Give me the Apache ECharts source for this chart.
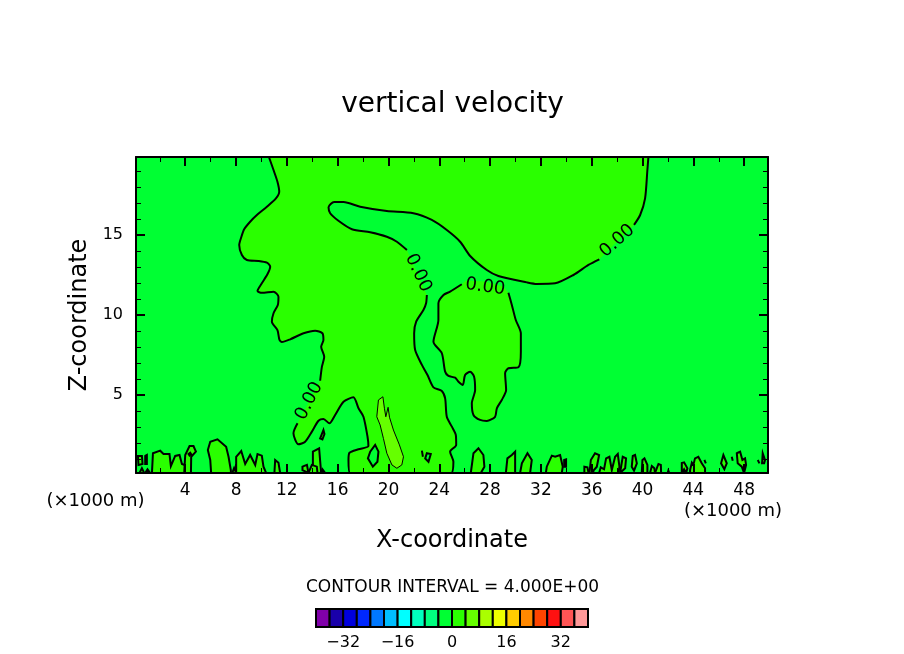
<!DOCTYPE html>
<html><head><meta charset="utf-8">
<style>html,body{margin:0;padding:0;background:#fff}#c{width:904px;height:654px}</style>
<script src="https://cdn.jsdelivr.net/npm/echarts@6/dist/echarts.min.js"></script>
</head><body><div id="c"></div>
<script>
const xMajor=[4,8,12,16,20,24,28,32,36,40,44,48];
const xMinor=[2,6,10,14,18,22,26,30,34,38,42,46];
const zMajor=[5,10,15];
const zMinor=[1,2,3,4,6,7,8,9,11,12,13,14,16,17,18,19];
const barTicks=[-32,-16,0,16,32];
const barEdges=[-40,-36,-32,-28,-24,-20,-16,-12,-8,-4,0,4,8,12,16,20,24,28,32,36,40];
const barColors=['#8000AA','#1900AA','#0000DC','#0028FF','#0078FF','#00BEFF','#00FFFF','#00FFBE','#00FF80','#00FF33','#2AFF00','#66FF00','#AAFF00','#EEFF00','#FFCC00','#FF8800','#FF4400','#FF1111','#FF5555','#FF9999'];
const negColor='#00FF33', posColor='#2AFF00', highColor='#66FF00';

// zero contour of the main updraft; null = gap left for a contour label
const mainContour=[[10.59,19.875],[10.95,19.06],[11.26,18.33],[11.40,17.71],[11.14,17.29],[10.43,16.77],[9.64,16.25],[9.11,15.83],[8.64,15.36],[8.41,14.86],[8.25,14.38],[8.46,13.75],[8.85,13.44],[9.77,13.38],[10.43,13.27],[10.69,13.02],[10.48,12.56],[10.03,11.98],[9.69,11.5],[10.03,11.39],[10.95,11.46],[11.34,11.14],[11.29,10.63],[10.95,10.11],[10.82,9.58],[11.26,9.06],[11.42,8.44],[11.61,8.31],[12.26,8.48],[13.31,8.86],[14.23,9.02],[14.80,8.86],[14.88,8.44],[14.70,8.02],[14.94,7.39],[14.76,6.77],[14.62,5.89],null,[12.84,3.23],[12.52,2.61],[12.91,1.92],[13.44,2.08],[13.97,2.71],[14.49,3.39],[14.88,3.5],[15.35,3.23],[15.80,3.75],[16.46,4.58],[17.24,4.86],[17.64,4.17],[18.03,3.64],[18.35,2.39],[18.42,1.81],[17.64,1.61],[16.93,1.39],[16.85,0.94],[16.98,0.125],[24.93,0.125],[25.11,0.83],[24.85,1.46],[25.33,1.88],[25.30,2.5],[24.99,3.02],[24.59,3.64],[24.46,4.79],[24.20,5.25],[23.54,5.48],[23.07,6.25],[22.63,6.88],[22.10,7.81],[22.02,8.86],[22.18,9.58],[22.75,10.31],[22.96,10.73],[23.02,11.25],null,[21.45,14.06],[20.66,14.58],[19.87,14.89],[18.56,15.17],[17.12,15.36],[16.06,15.89],[15.41,16.36],[15.28,16.73],[15.72,17.06],[16.46,17.06],[17.77,16.77],[19.87,16.5],[21.96,16.36],[23.41,15.94],[24.59,15.31],[25.64,14.58],[26.43,13.69],[27.74,12.81],[28.65,12.44],[30.89,12.04],[31.68,11.94],[33.12,11.98],[34.56,12.5],[35.74,13.13],[36.60,13.48],null,[39.33,15.63],[39.81,16.25],[40.20,17.29],[40.38,19.06],[40.46,19.875]];
const islandContour=[[29.44,11.39],[29.71,10.63],[30.02,9.69],[30.42,8.86],[30.42,7.71],[30.23,6.73],[29.44,6.67],[29.18,6.36],[29.26,5.31],[28.92,4.69],[28.53,4.17],[28.39,3.64],[27.74,3.38],[27.21,3.44],[26.69,3.75],[26.56,4.48],[26.82,5.31],[26.74,6.14],[26.43,6.46],[26.03,6.25],[25.85,5.63],[25.51,5.83],[25.25,6.08],[24.72,6.19],[24.46,6.46],[24.20,7.61],[23.54,8.33],[23.93,9.69],[23.93,10.73],[24.33,11.25],[24.85,11.46],[25.77,11.92]];
const islandCap=[[26.1,12.15],[27.6,12.1],[29.0,11.8]];
const highBlob=[[19.56,4.89],[19.21,4.69],[19.08,3.64],[19.34,3.13],[19.60,2.29],[19.87,1.36],[20.27,0.63],[20.66,0.42],[21.05,0.63],[21.18,1.14],[20.86,1.88],[20.39,2.81],[20.08,3.61],[19.97,4.23],[19.79,3.64],[19.68,4.17]];
// small positive cells along the ground
const groundLobes=[
[[1.38,0.125],[1.46,1.36],[2.03,1.52],[2.29,1.31],[2.76,1.31],[2.87,0.56],[3.21,1.19],[3.55,1.25],[3.74,0.69],[4.18,0.56],[4.26,0.125]],
[[3.92,0.125],[4.0,1.25],[4.34,1.81],[4.65,1.81],[4.84,1.46],[4.47,1.14],[4.45,0.125]],
[[4.26,1.31],[4.39,1.39],[4.47,1.29],[4.34,1.21]],
[[0.28,1.19],[0.59,1.19],[0.64,0.69],[0.32,0.63]],
[[0.85,1.19],[0.98,1.25],[0.98,0.69],[0.85,0.69]],
[[0.40,0.125],[0.59,0.42],[0.77,0.125]],
[[0.85,0.125],[1.03,0.36],[1.24,0.125]],
[[6.04,0.125],[5.97,0.94],[5.78,1.56],[5.97,2.08],[6.54,2.23],[7.22,1.77],[7.41,1.14],[7.59,0.31],[7.6,0.125]],
[[8.01,0.125],[8.01,1.14],[8.41,1.5],[8.72,0.69],[9.11,1.25],[9.51,0.63],[9.69,1.31],[10.03,1.21],[10.16,0.52],[10.37,0.125]],
[[7.70,0.125],[7.85,0.44],[8.01,0.125]],
[[11.02,0.125],[11.08,0.94],[11.34,0.77],[11.47,0.125]],
[[14.05,0.125],[14.05,1.46],[14.54,1.67],[14.68,0.31],[14.68,0.125]],
[[13.23,0.3],[13.23,0.52],[13.58,0.63],[13.70,0.125]],
[[13.70,0.125],[13.97,0.63],[14.36,0.52],[14.41,0.125]],
[[14.68,0.125],[14.8,0.36],[15.02,0.125]],
[[14.88,2.81],[14.96,2.56],[14.8,2.23],[14.62,2.29]],
[[26.48,0.125],[26.69,1.36],[27.08,1.67],[27.47,1.25],[27.55,0.52],[27.27,0.125]],
[[29.24,0.125],[29.36,1.04],[29.71,1.25],[29.97,1.46],[29.97,0.125]],
[[30.36,0.125],[30.5,0.73],[30.94,1.36],[31.28,0.94],[31.15,0.125]],
[[32.39,0.125],[32.46,0.52],[32.86,1.21],[33.12,1.14],[33.51,1.25],[33.72,0.52],[33.64,0.125]],
[[33.83,0.94],[33.98,0.98],[33.98,0.52],[33.83,0.52]],
[[35.42,0.125],[35.42,0.52],[35.66,0.48],[35.75,0.125]],
[[35.82,0.125],[35.93,0.94],[36.26,1.36],[36.58,1.25],[36.4,0.52],[36.13,0.27],[36.13,0.125]],
[[36.58,0.125],[36.71,0.48],[36.97,0.36],[37.13,1.04],[37.39,1.14],[37.58,0.31],[37.84,1.14],[38.05,1.31],[38.18,0.52],[38.1,0.125]],
[[38.23,0.125],[38.44,1.14],[38.7,1.04],[38.63,0.42]],
[[39.15,0.52],[39.23,1.19],[39.41,1.25],[39.55,0.73],[39.33,0.27]],
[[39.94,0.125],[39.99,0.94],[40.15,1.04],[40.38,0.63],[40.38,0.125]],
[[40.59,0.125],[40.73,0.56],[40.93,0.42],[40.98,0.125]],
[[40.98,0.125],[41.25,0.69],[41.44,0.63],[41.46,0.125]],
[[42.03,0.27],[42.1,0.125],[41.98,0.125]],
[[43.09,0.125],[43.09,0.75],[43.27,0.79],[43.53,0.42],[43.43,0.125],[43.27,0.36]],
[[43.74,0.125],[43.74,0.31],[43.88,0.77],[44.0,0.63],[44.13,1.04],[44.39,1.14],[44.66,0.73],[44.92,0.42],[44.92,0.125]],
[[44.87,0.94],[44.98,0.73]],
[[46.36,1.25],[46.63,0.73],[46.44,0.36],[46.18,0.73]],
[[47.02,1.14],[47.1,0.89]],
[[47.42,1.36],[47.68,1.46],[47.86,0.94],[48.07,1.04],[48.15,0.63],[47.99,0.125],[47.81,0.52],[47.49,0.73]],
[[49.07,0.94],[49.2,0.73]],
[[49.46,1.36],[49.64,0.94],[49.57,0.73],[49.41,0.73]]
];
// small negative holes inside the updraft
const negativeHoles=[
[[18.95,1.88],[19.21,1.46],[19.13,0.83],[18.77,0.52],[18.38,1.04],[18.56,1.46]],
[[23.02,1.36],[23.33,1.31],[23.15,0.83],[22.89,1.04]],
[[22.63,1.52],[22.71,1.14]]
];
const labelText=['0.00','0.00','0.00','0.00'];
const labelX=[38.0,27.61,22.33,13.76];
const labelZ=[14.63,11.75,12.63,4.63];
const labelAngle=[42,-8,-65,63];

const font='"DejaVu Sans"';
const mainFill=mainContour.filter(Boolean);
const islandFill=islandContour.concat(islandCap);
const polys=[
 {p:mainFill,fill:posColor,w:0},
 {p:islandFill,fill:posColor,w:0},
 ...groundLobes.map(p=>({p,fill:posColor,w:2})),
 ...negativeHoles.map(p=>({p,fill:negColor,w:2})),
 {p:highBlob,fill:highColor,w:1}
];
const chart=echarts.init(document.getElementById('c'),null,{renderer:'canvas'});
const xBase={type:'value',gridIndex:0,min:0.125,max:49.875,z:10,splitLine:{show:false},axisLine:{show:false,onZero:false},axisLabel:{show:false}};
const yBase={type:'value',gridIndex:0,min:0.125,max:19.875,z:10,splitLine:{show:false},axisLine:{show:false,onZero:false},axisLabel:{show:false}};
const major=v=>({show:true,inside:true,length:9,customValues:v,lineStyle:{color:'#000',width:2}});
const minor=v=>({show:true,inside:true,length:5,customValues:v,lineStyle:{color:'#000',width:1}});
const frame={show:true,onZero:false,lineStyle:{color:'#000',width:2}};
chart.setOption({
 animation:false,
 backgroundColor:'#fff',
 title:{text:'vertical velocity',left:447.5,top:100,textAlign:'center',textVerticalAlign:'middle',textStyle:{fontFamily:font,fontSize:28,fontWeight:'normal',color:'#000'}},
 grid:[
  {left:136,top:157,width:632,height:316,show:true,backgroundColor:negColor,borderWidth:0},
  {left:316,top:609,width:272,height:18}
 ],
 xAxis:[
  {...xBase,position:'bottom',axisLine:frame,axisTick:major(xMajor),
   axisLabel:{show:true,customValues:xMajor,margin:9,fontFamily:font,fontSize:17,color:'#000'},
   name:'X-coordinate',nameLocation:'middle',nameGap:56,nameTextStyle:{fontFamily:font,fontSize:24,color:'#000'}},
  {...xBase,position:'bottom',axisTick:minor(xMinor)},
  {...xBase,position:'top',axisLine:frame,axisTick:major(xMajor)},
  {...xBase,position:'top',axisTick:minor(xMinor)},
  {type:'value',gridIndex:1,min:-40,max:40,position:'bottom',splitLine:{show:false},axisLine:{show:false,onZero:false},axisTick:{show:false},
   axisLabel:{show:true,customValues:barTicks,margin:8,fontFamily:font,fontSize:16,color:'#000',formatter:v=>v<0?'\u2212'+(-v):String(v)}}
 ],
 yAxis:[
  {...yBase,position:'left',axisLine:frame,axisTick:major(zMajor),
   axisLabel:{show:true,customValues:zMajor,margin:13,padding:[2,0,0,0],fontFamily:font,fontSize:16,color:'#000'},
   name:'Z-coordinate',nameLocation:'middle',nameRotate:90,nameGap:34,nameTextStyle:{fontFamily:font,fontSize:24,color:'#000'}},
  {...yBase,position:'left',axisTick:minor(zMinor)},
  {...yBase,position:'right',axisLine:frame,axisTick:major(zMajor)},
  {...yBase,position:'right',axisTick:minor(zMinor)},
  {type:'value',gridIndex:1,min:0,max:1,show:false}
 ],
 graphic:[
  {type:'text',x:95.5,y:501,style:{text:'(\u00d71000 m)',font:'18px '+font,fill:'#000',align:'center',verticalAlign:'middle'}},
  {type:'text',x:733,y:511.5,style:{text:'(\u00d71000 m)',font:'18px '+font,fill:'#000',align:'center',verticalAlign:'middle'}},
  {type:'text',x:452.5,y:587.5,style:{text:'CONTOUR INTERVAL = 4.000E+00',font:'17px '+font,fill:'#000',align:'center',verticalAlign:'middle'}}
 ],
 series:[
  {type:'custom',name:'fills',xAxisIndex:0,yAxisIndex:0,z:2,silent:true,clip:true,
   data:polys.map((_,i)=>[i]),
   renderItem:(params,api)=>{const o=polys[api.value(0)];
     return {type:'polygon',shape:{points:o.p.map(q=>api.coord(q))},style:{fill:o.fill,stroke:o.w?'#000':null,lineWidth:o.w}};}},
  ...[mainContour,islandContour].map(c=>({type:'line',xAxisIndex:0,yAxisIndex:0,z:3,silent:true,showSymbol:false,symbol:'none',smooth:0.25,
    connectNulls:false,data:c.map(q=>q||['-','-']),lineStyle:{color:'#000',width:2}})),
  {type:'custom',name:'labels',xAxisIndex:0,yAxisIndex:0,z:4,silent:true,
   data:labelText.map((_,i)=>[labelX[i],labelZ[i],i]),
   renderItem:(params,api)=>{const i=api.value(2),c=api.coord([api.value(0),api.value(1)]);
     return {type:'text',x:c[0],y:c[1],rotation:labelAngle[i]*Math.PI/180,
       style:{text:labelText[i],font:'18px '+font,fill:'#000',align:'center',verticalAlign:'middle'}};}},
  {type:'custom',name:'colorbar',xAxisIndex:4,yAxisIndex:4,z:5,silent:true,
   data:barColors.map((_,i)=>[barEdges[i],barEdges[i+1],i]),
   renderItem:(params,api)=>{const a=api.coord([api.value(0),1]),b=api.coord([api.value(1),0]);
     return {type:'rect',shape:{x:a[0],y:a[1],width:b[0]-a[0],height:b[1]-a[1]},
       style:{fill:barColors[api.value(2)],stroke:'#000',lineWidth:2}};}}
 ]
});
</script></body></html>
